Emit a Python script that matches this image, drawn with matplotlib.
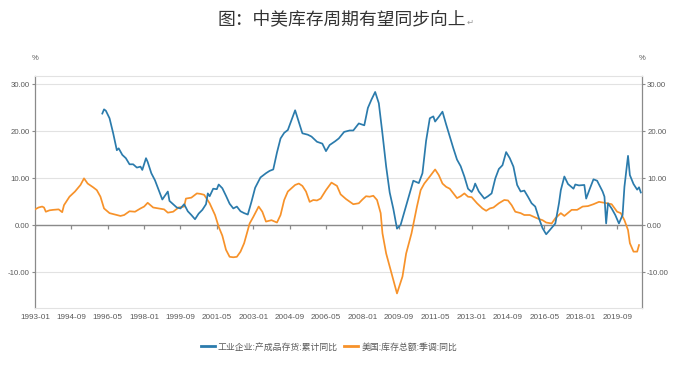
import matplotlib
matplotlib.use("Agg")
import matplotlib.pyplot as plt
from matplotlib import font_manager
from matplotlib.lines import Line2D
import pandas as pd

# 数字用窄一点的字体
_names = {f.name for f in font_manager.fontManager.ttflist}
if "Liberation Sans Narrow" in _names:
    NUM_FONT, NUM_SIZE = "Liberation Sans Narrow", 6.6
elif "Liberation Sans" in _names:
    NUM_FONT, NUM_SIZE = "Liberation Sans", 5.6
else:
    NUM_FONT, NUM_SIZE = "DejaVu Sans", 5.2
CJK = ["Noto Sans CJK SC", "DejaVu Sans"]

title = "图：中美库存周期有望同步向上"
cn_label = "工业企业:产成品存货:累计同比"
us_label = "美国:库存总额:季调:同比"

# 工业企业:产成品存货:累计同比 (%)
cn_dates = [
    "1996-02", "1996-03", "1996-04", "1996-06", "1996-08", "1996-10", "1996-11", "1997-01",
    "1997-03", "1997-05", "1997-07", "1997-09", "1997-11", "1997-12", "1998-02", "1998-03",
    "1998-05", "1998-07", "1998-09", "1998-11", "1999-02", "1999-03", "1999-05", "1999-07",
    "1999-09", "1999-11", "2000-01", "2000-03", "2000-05", "2000-07", "2000-09", "2000-11",
    "2000-12", "2001-01", "2001-03", "2001-05", "2001-06", "2001-08", "2001-10", "2001-12",
    "2002-02", "2002-04", "2002-06", "2002-08", "2002-10", "2002-12", "2003-02", "2003-05",
    "2003-08", "2003-10", "2003-12", "2004-02", "2004-04", "2004-06", "2004-08", "2004-10",
    "2004-12", "2005-02", "2005-04", "2005-07", "2005-09", "2005-12", "2006-03", "2006-05",
    "2006-07", "2006-10", "2006-12", "2007-03", "2007-06", "2007-08", "2007-11", "2008-02",
    "2008-04", "2008-06", "2008-08", "2008-10", "2008-12", "2009-02", "2009-04", "2009-06",
    "2009-08", "2009-10", "2009-12", "2010-02", "2010-05", "2010-08", "2010-10", "2010-12",
    "2011-02", "2011-04", "2011-05", "2011-07", "2011-09", "2011-11", "2012-01", "2012-03",
    "2012-05", "2012-07", "2012-09", "2012-11", "2013-01", "2013-02", "2013-03", "2013-05",
    "2013-07", "2013-08", "2013-10", "2013-12", "2014-02", "2014-04", "2014-06", "2014-08",
    "2014-10", "2014-12", "2015-02", "2015-04", "2015-06", "2015-08", "2015-10", "2015-12",
    "2016-02", "2016-04", "2016-06", "2016-08", "2016-11", "2017-01", "2017-02", "2017-04",
    "2017-06", "2017-09", "2017-10", "2017-12", "2018-03", "2018-04", "2018-06", "2018-08",
    "2018-10", "2019-01", "2019-02", "2019-03", "2019-04", "2019-06", "2019-08", "2019-10",
    "2019-12", "2020-01", "2020-03", "2020-04", "2020-06", "2020-08", "2020-09", "2020-10",
]
cn_values = [
    23.8, 24.7, 24.4, 22.8, 19.6, 16.0, 16.4, 15.0,
    14.3, 13.0, 13.0, 12.3, 12.5, 11.8, 14.3, 13.5,
    11.1, 9.6, 7.5, 5.5, 7.2, 5.2, 4.5, 3.8,
    3.6, 4.5, 3.0, 2.2, 1.3, 2.5, 3.3, 4.5,
    6.8, 6.2, 7.8, 7.7, 8.7, 7.9, 6.3, 4.6,
    3.6, 4.0, 3.0, 2.6, 2.3, 5.0, 8.0, 10.2,
    11.1, 11.6, 11.9, 15.5, 18.5, 19.7, 20.3, 22.4,
    24.5, 22.0, 19.6, 19.3, 18.9, 17.8, 17.4, 15.8,
    17.1, 17.9, 18.5, 19.9, 20.2, 20.2, 21.7, 21.3,
    25.0, 26.8, 28.4, 26.0, 19.5, 12.5, 7.0, 3.5,
    -0.7, 0.1, 2.8, 5.5, 9.5, 9.0, 11.1, 18.0,
    22.8, 23.2, 22.1, 23.1, 24.2, 21.5, 18.9, 16.4,
    14.0, 12.6, 10.4, 7.8, 7.1, 7.8, 8.9, 7.2,
    6.2, 5.7, 6.2, 6.8, 10.0, 12.0, 12.8, 15.6,
    14.3, 12.5, 8.6, 7.2, 7.4, 6.1, 4.7, 4.0,
    1.5, -0.6, -1.9, -1.0, 0.4, 4.7, 7.5, 10.4,
    8.8, 7.8, 8.7, 8.5, 8.6, 5.7, 7.8, 9.8,
    9.5, 7.2, 6.1, 0.4, 4.7, 3.6, 2.2, 0.4,
    2.2, 8.2, 14.8, 10.7, 8.8, 7.6, 8.1, 7.0,
]

# 美国:库存总额:季调:同比 (%)
us_dates = [
    "1993-01", "1993-03", "1993-05", "1993-06", "1993-07", "1993-09", "1993-11", "1994-02",
    "1994-04", "1994-05", "1994-08", "1994-11", "1995-02", "1995-04", "1995-06", "1995-09",
    "1995-11", "1996-01", "1996-03", "1996-06", "1996-09", "1996-12", "1997-02", "1997-05",
    "1997-08", "1997-11", "1998-01", "1998-03", "1998-06", "1998-09", "1998-12", "1999-02",
    "1999-05", "1999-08", "1999-11", "1999-12", "2000-03", "2000-06", "2000-08", "2000-10",
    "2001-01", "2001-04", "2001-06", "2001-08", "2001-10", "2001-12", "2002-02", "2002-04",
    "2002-06", "2002-08", "2002-09", "2002-11", "2003-01", "2003-04", "2003-06", "2003-08",
    "2003-11", "2004-02", "2004-04", "2004-06", "2004-08", "2004-10", "2004-12", "2005-02",
    "2005-04", "2005-06", "2005-08", "2005-10", "2005-12", "2006-02", "2006-05", "2006-08",
    "2006-11", "2007-01", "2007-04", "2007-08", "2007-11", "2008-01", "2008-03", "2008-05",
    "2008-07", "2008-09", "2008-11", "2008-12", "2009-02", "2009-05", "2009-08", "2009-11",
    "2010-01", "2010-04", "2010-07", "2010-09", "2010-11", "2011-02", "2011-05", "2011-07",
    "2011-09", "2011-11", "2012-01", "2012-03", "2012-05", "2012-07", "2012-09", "2012-11",
    "2013-01", "2013-04", "2013-07", "2013-09", "2013-11", "2014-01", "2014-04", "2014-07",
    "2014-09", "2014-11", "2015-01", "2015-04", "2015-06", "2015-09", "2016-01", "2016-04",
    "2016-06", "2016-09", "2016-11", "2017-02", "2017-04", "2017-08", "2017-11", "2018-02",
    "2018-05", "2018-08", "2018-11", "2019-02", "2019-06", "2019-09", "2019-11", "2020-01",
    "2020-03", "2020-04", "2020-06", "2020-08", "2020-09",
]
us_values = [
    3.4, 3.8, 4.0, 3.8, 2.9, 3.2, 3.3, 3.4,
    2.8, 4.3, 6.1, 7.2, 8.6, 10.0, 8.9, 8.1,
    7.5, 6.1, 3.6, 2.6, 2.3, 2.0, 2.2, 3.0,
    2.9, 3.6, 4.0, 4.8, 3.8, 3.6, 3.4, 2.7,
    2.9, 3.8, 4.0, 5.7, 5.9, 6.8, 6.7, 6.5,
    4.7, 2.2, -0.3, -2.2, -5.2, -6.7, -6.8, -6.7,
    -5.6, -3.8, -2.4, 0.4, 1.8, 4.0, 2.9, 0.8,
    1.1, 0.6, 2.2, 5.4, 7.2, 7.9, 8.6, 8.9,
    8.4, 7.2, 5.0, 5.4, 5.3, 5.7, 7.5, 9.1,
    8.4, 6.6, 5.6, 4.5, 4.7, 5.5, 6.2, 6.1,
    6.3, 5.4, 2.6, -1.7, -6.0, -10.2, -14.5, -10.9,
    -6.0, -1.7, 4.0, 7.5, 8.9, 10.4, 11.9, 10.7,
    8.9, 8.2, 7.8, 6.8, 5.8, 6.2, 6.8, 6.1,
    6.0, 4.7, 3.6, 3.1, 3.6, 3.8, 4.7, 5.4,
    5.3, 4.3, 2.9, 2.6, 2.2, 2.2, 1.5, 1.1,
    0.6, 0.4, 1.5, 2.6, 2.0, 3.3, 3.3, 4.0,
    4.1, 4.5, 5.0, 4.8, 4.5, 2.9, 2.6, 1.1,
    -1.0, -3.8, -5.6, -5.6, -4.2,
]

y_ticks = [-10, 0, 10, 20, 30]
x_start = "1993-01"
x_end = "2020-10-21"

BLUE = "#2b7bac"
ORANGE = "#f7922a"
GRAY = "#5a5a5a"

fig = plt.figure(figsize=(6.73, 3.72), dpi=100)
ax = fig.add_axes([35 / 673, 1 - 308 / 372, (642 - 35) / 673, (308 - 76) / 372])

cn_x = pd.to_datetime(cn_dates, format="%Y-%m")
us_x = pd.to_datetime(us_dates, format="%Y-%m")
ax.plot(cn_x, cn_values, color=BLUE, lw=1.25, zorder=4)
ax.plot(us_x, us_values, color=ORANGE, lw=1.25, zorder=3)

ax.set_xlim(pd.Timestamp(x_start), pd.Timestamp(x_end))
ax.set_ylim(-17.6, 31.8)

# 网格线和零轴
ax.set_yticks(y_ticks)
ax.yaxis.grid(True, color="#e2e2e2", lw=0.8)
ax.set_axisbelow(True)
ax.axhline(0, color="#8a8a8a", lw=1.0, zorder=2)

xt = pd.date_range(x_start, periods=17, freq="20MS")
ax.set_xticks(xt)
ax.set_xticklabels([d.strftime("%Y-%m") for d in xt])
# 零轴上的刻度
ax.vlines(xt, -0.8, 0, color="#8a8a8a", lw=0.9, zorder=2)

for side in ["left", "right"]:
    ax.spines[side].set_color("#8a8a8a")
    ax.spines[side].set_linewidth(0.9)
for side in ["top", "bottom"]:
    ax.spines[side].set_color("#e2e2e2")
    ax.spines[side].set_linewidth(0.8)

ax.tick_params(axis="x", length=0, pad=4, labelsize=NUM_SIZE + 0.3, labelcolor=GRAY)
ax.tick_params(axis="y", length=2.5, width=0.8, color="#8a8a8a", pad=1.2,
               labelsize=NUM_SIZE, labelcolor=GRAY, left=True, right=True,
               labelleft=True, labelright=True)
ax.yaxis.set_major_formatter(matplotlib.ticker.FormatStrFormatter("%.2f"))
for t in ax.xaxis.get_major_ticks():
    t.label1.set_family(NUM_FONT)
for t in ax.yaxis.get_major_ticks():
    t.label1.set_family(NUM_FONT)
    t.label2.set_family(NUM_FONT)

fig.text(35 / 673, 1 - 59 / 372, "%", ha="center", va="center", fontsize=5.5,
         color=GRAY, family=NUM_FONT)
fig.text(642 / 673, 1 - 59 / 372, "%", ha="center", va="center", fontsize=5.5,
         color=GRAY, family=NUM_FONT)

# 标题
fig.text(341.5 / 673, 1 - 20 / 372, title, ha="center", va="center", fontsize=12.8,
         color="#333333", family=CJK)
fig.text(467 / 673, 1 - 22 / 372, "\u21b5", ha="left", va="center", fontsize=6,
         color="#999999", family="DejaVu Sans")

# 图例
handles = [Line2D([], [], color=BLUE, lw=2), Line2D([], [], color=ORANGE, lw=2)]
leg = fig.legend(handles, [cn_label, us_label], loc="center",
                 bbox_to_anchor=(329 / 673, 1 - 347 / 372), ncol=2, frameon=False,
                 handlelength=1.6, handletextpad=0.35, columnspacing=0.7,
                 prop={"family": CJK, "size": 6.4})
for t in leg.get_texts():
    t.set_color(GRAY)

fig.savefig("out.png", dpi=100)
